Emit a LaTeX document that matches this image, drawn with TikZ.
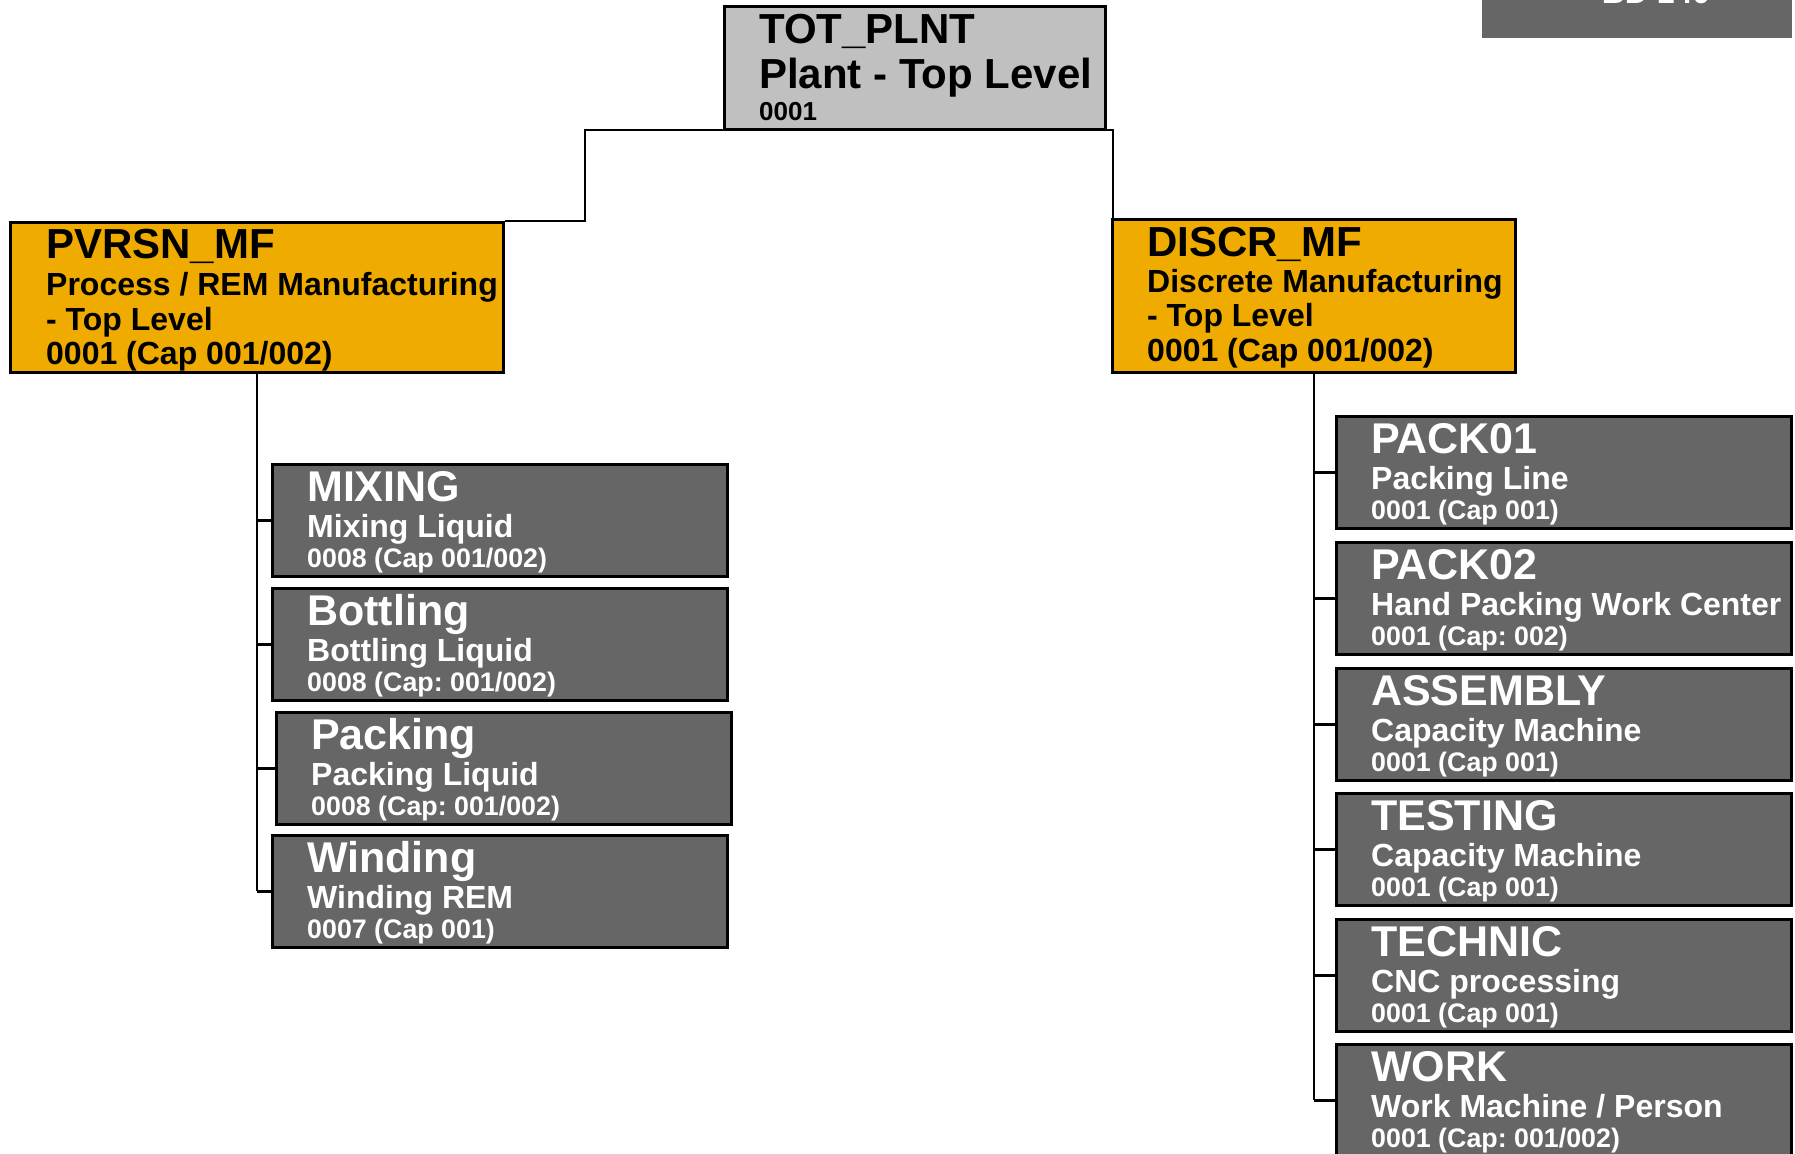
\documentclass[tikz,border=0pt]{standalone}
\usepackage{fontspec}
\setmainfont{Liberation Sans}
\frenchspacing
\definecolor{boxgray}{HTML}{666666}
\definecolor{sapgold}{HTML}{F0AB00}
\definecolor{topgray}{HTML}{C0C0C0}
\newcommand\fT{\fontsize{43}{43}\selectfont\bfseries}
\newcommand\fTT{\fontsize{42}{42}\selectfont\bfseries}
\newcommand\fM{\fontsize{32}{32}\selectfont\bfseries}
\newcommand\fS{\fontsize{26.8}{27}\selectfont\bfseries}
\newcommand\fSS{\fontsize{26}{26}\selectfont\bfseries}
\tikzset{
  box/.style={draw=black, line width=2.8pt, rectangle, inner sep=0pt, anchor=north west},
  gbox/.style={box, fill=boxgray},
  obox/.style={box, fill=sapgold},
  tbox/.style={box, fill=topgray},
  txt/.style={anchor=base west, inner sep=0pt},
  conn/.style={draw=black, line width=2.5pt},
}
\newcommand\gunit[6]{%
  \node[gbox, minimum width=455pt, minimum height=112pt] (#1) at (#2,#3) {};
  \node[txt, text=white, font=\fT] (#1-a) at ([shift={(36,38)}]#1.north west) {#4};
  \node[txt, text=white, font=\fM] (#1-b) at ([shift={(36,74)}]#1.north west) {#5};
  \node[txt, text=white, font=\fS] (#1-c) at ([shift={(36,104)}]#1.north west) {#6};
}
\begin{document}
\begin{tikzpicture}[x=1pt,y=-1pt]
\useasboundingbox (0,0) rectangle (1795,1153);
\clip (0,0) rectangle (1795,1153);
\fill[white] (0,0) rectangle (1795,1153);

% corner box
\node[fill=boxgray, anchor=north west, minimum width=310pt, minimum height=60pt, inner sep=0pt] (bd) at (1482,-22) {};
\node[anchor=base, inner sep=0pt, text=white, font=\fM] (bdt) at (1656,4) {BD 140};

% top box
\node[tbox, minimum width=381pt, minimum height=123pt] (tot) at (723,5) {};
\node[txt, font=\fTT] (tot-a) at ([shift={(36,39)}]tot.north west) {TOT\_PLNT};
\node[txt, font=\fTT] (tot-b) at ([shift={(36,84)}]tot.north west) {Plant - Top Level};
\node[txt, font=\fSS] (tot-c) at ([shift={(36,116)}]tot.north west) {0001};

% level 2
\node[obox, minimum width=493pt, minimum height=150pt] (pv) at (9,221) {};
\node[txt, font=\fTT] (pv-a) at ([shift={(37,37)}]pv.north west) {PVRSN\_MF};
\node[txt, font=\fM] (pv-b) at ([shift={(37,74)}]pv.north west) {Process / REM Manufacturing};
\node[txt, font=\fM] (pv-c) at ([shift={(37,109)}]pv.north west) {- Top Level};
\node[txt, font=\fM] (pv-d) at ([shift={(37,143)}]pv.north west) {0001 (Cap 001/002)};

\node[obox, minimum width=403pt, minimum height=153pt] (dc) at (1111,218) {};
\node[txt, font=\fTT] (dc-a) at ([shift={(36,38)}]dc.north west) {DISCR\_MF};
\node[txt, font=\fM] (dc-b) at ([shift={(36,74)}]dc.north west) {Discrete Manufacturing};
\node[txt, font=\fM] (dc-c) at ([shift={(36,108)}]dc.north west) {- Top Level};
\node[txt, font=\fM] (dc-d) at ([shift={(36,143)}]dc.north west) {0001 (Cap 001/002)};

% left children
\gunit{mix}{271}{463}{MIXING}{Mixing Liquid}{0008 (Cap 001/002)}
\gunit{bot}{271}{587}{Bottling}{Bottling Liquid}{0008 (Cap: 001/002)}
\gunit{pak}{275}{711}{Packing}{Packing Liquid}{0008 (Cap: 001/002)}
\gunit{wind}{271}{834}{Winding}{Winding REM}{0007 (Cap 001)}

% right children
\gunit{p1}{1335}{415}{PACK01}{Packing Line}{0001 (Cap 001)}
\gunit{p2}{1335}{541}{PACK02}{Hand Packing Work Center}{0001 (Cap: 002)}
\gunit{asm}{1335}{667}{ASSEMBLY}{Capacity Machine}{0001 (Cap 001)}
\gunit{tst}{1335}{792}{TESTING}{Capacity Machine}{0001 (Cap 001)}
\gunit{tec}{1335}{918}{TECHNIC}{CNC processing}{0001 (Cap 001)}
\gunit{work}{1335}{1043}{WORK}{Work Machine / Person}{0001 (Cap: 001/002)}

% connectors
\coordinate (busL) at (585,130);
\coordinate (busR) at (1113,130);
\draw[conn] (pv.north east) -| (busL) -- (busR) -- (busR |- dc.north);

\draw[conn] (pv.south) -- (pv.south |- wind.west);
\foreach \c in {mix,bot,pak,wind}{\draw[conn] (pv.south |- \c.west) -- (\c.west);}

\draw[conn] (dc.south) -- (dc.south |- work.west);
\foreach \c in {p1,p2,asm,tst,tec,work}{\draw[conn] (dc.south |- \c.west) -- (\c.west);}
\end{tikzpicture}
\end{document}
